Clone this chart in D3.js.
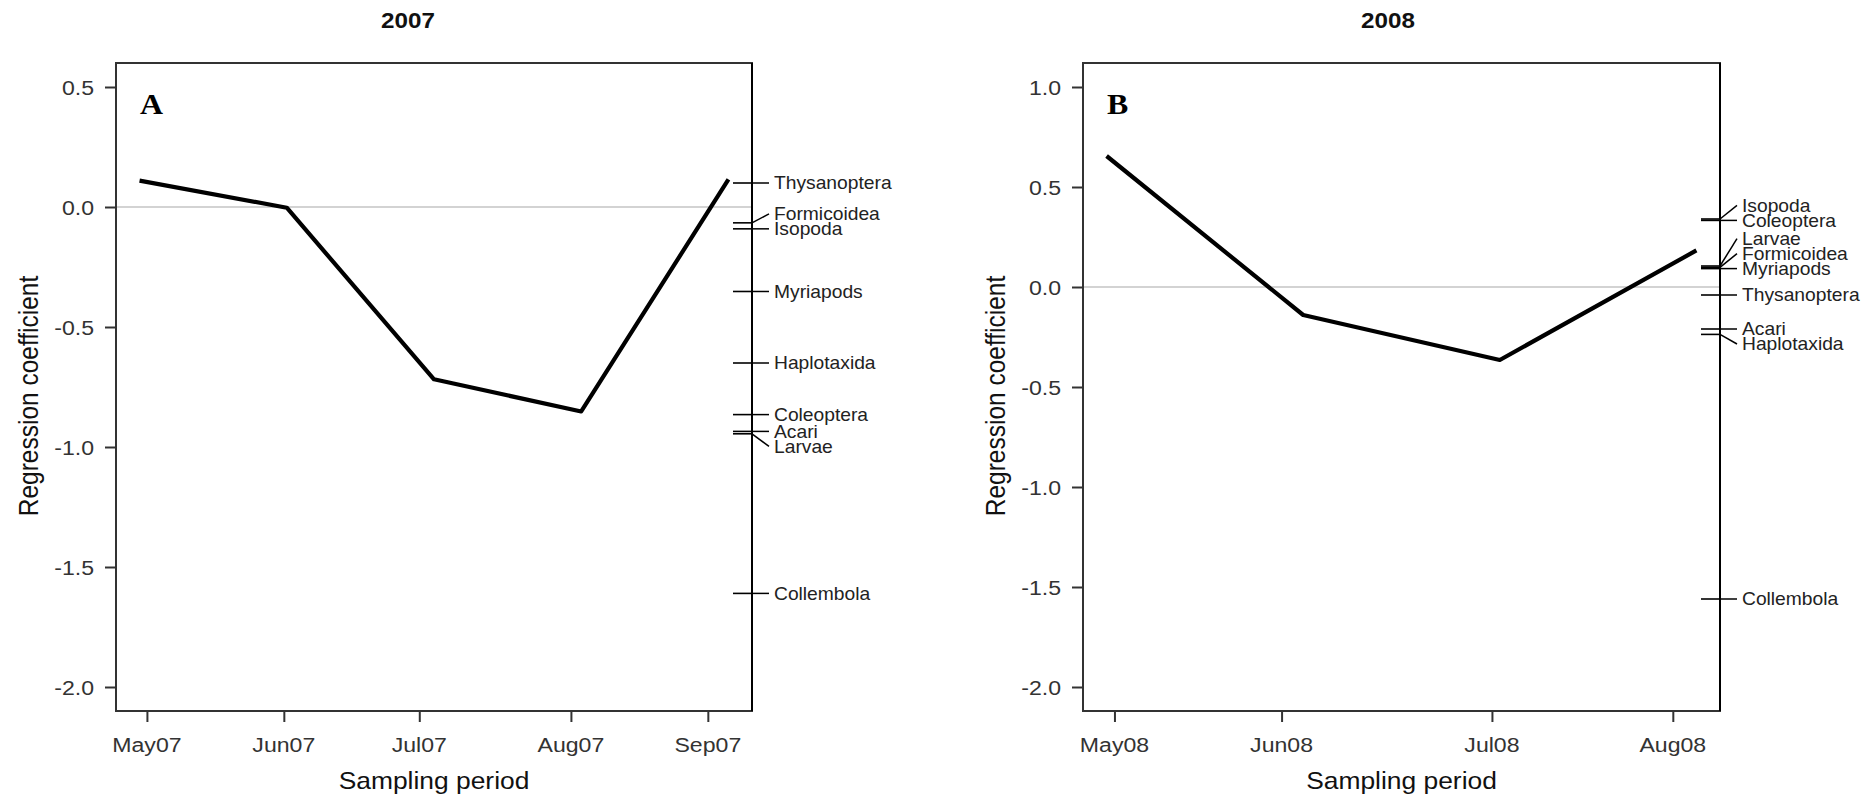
<!DOCTYPE html>
<html>
<head>
<meta charset="utf-8">
<script src="https://cdn.jsdelivr.net/npm/d3@7"></script>
<style>
  body { margin: 0; background: #fff; }
  svg { display: block; }
</style>
</head>
<body>
<svg id="fig" width="1876" height="800"></svg>
<script>
// ---- 2007 sampling season ----
const periods07 = ["May07", "Jun07", "Jul07", "Aug07", "Sep07"];
const samples07 = [1, 2, 3, 4, 5];
const coef07 = [0.11, -0.003, -0.718, -0.852, 0.115];
const tickAt07 = [1.05, 1.98, 2.9, 3.93, 4.86];
const species07 = ["Thysanoptera", "Formicoidea", "Isopoda", "Myriapods", "Haplotaxida",
                   "Coleoptera", "Acari", "Larvae", "Collembola"];
const scores07 = [0.10, -0.066, -0.091, -0.352, -0.65, -0.865, -0.935, -0.945, -1.61];
const ylim07 = [-2, 0.5];
const yTicks07 = [-2, -1.5, -1, -0.5, 0, 0.5];

// ---- 2008 sampling season ----
const periods08 = ["May08", "Jun08", "Jul08", "Aug08"];
const samples08 = [1, 2, 3, 4];
const coef08 = [0.655, -0.14, -0.365, 0.183];
const tickAt08 = [1.04, 1.89, 2.96, 3.88];
const species08 = ["Isopoda", "Coleoptera", "Larvae", "Formicoidea", "Myriapods",
                   "Thysanoptera", "Acari", "Haplotaxida", "Collembola"];
const scores08 = [0.34, 0.333, 0.105, 0.098, 0.092, -0.04, -0.21, -0.237, -1.56];
const ylim08 = [-2, 1];
const yTicks08 = [-2, -1.5, -1, -0.5, 0, 0.5, 1];

const SANS = "'Liberation Sans', Arial, Helvetica, sans-serif";
const SERIF = "'Liberation Serif', 'Times New Roman', serif";
const SX = 1.1;           // horizontal text stretch of the figure
const svg = d3.select("#fig");

svg.append("rect").attr("width", 1876).attr("height", 800).attr("fill", "#fff");

function label(g, x, y, str, o = {}) {
  let tr = `translate(${x},${y}) scale(${SX},1)`;
  if (o.rotate) tr += ` rotate(${o.rotate})`;
  return g.append("text")
    .attr("transform", tr)
    .attr("text-anchor", o.anchor || "middle")
    .attr("dy", o.dy || 0)
    .attr("font-family", o.family || SANS)
    .attr("font-size", o.size || 21)
    .attr("font-weight", o.weight || "normal")
    .attr("fill", o.fill || "#222")
    .text(str);
}

// pad a range by 4% on each side
function padded(lo, hi) {
  const d = (hi - lo) * 0.04;
  return [lo - d, hi + d];
}

function panel(cfg) {
  const { box, samples, coef, periods, tickAt, species, scores, ylim, yTicks,
          title, titleX, letter } = cfg;
  const g = svg.append("g");

  const x = d3.scaleLinear()
    .domain(padded(d3.min(samples), d3.max(samples)))
    .range([box.left, box.right]);
  const y = d3.scaleLinear()
    .domain(padded(ylim[0], ylim[1]))
    .range([box.bottom, box.top]);

  // zero reference line
  g.append("line")
    .attr("x1", box.left).attr("x2", box.right)
    .attr("y1", y(0)).attr("y2", y(0))
    .attr("stroke", "#c4c4c4").attr("stroke-width", 1.6);

  // principal response curve
  const line = d3.line().x((d, i) => x(samples[i])).y(d => y(d));
  g.append("path")
    .datum(coef)
    .attr("d", line)
    .attr("fill", "none")
    .attr("stroke", "#000")
    .attr("stroke-width", 4.2)
    .attr("stroke-linejoin", "round");

  // plot frame
  g.append("rect")
    .attr("x", box.left).attr("y", box.top)
    .attr("width", box.right - box.left).attr("height", box.bottom - box.top)
    .attr("fill", "none").attr("stroke", "#333").attr("stroke-width", 2);

  // y axis
  const yAxis = d3.axisLeft(y).tickValues(yTicks).tickSize(11).tickFormat("");
  const ya = g.append("g").attr("transform", `translate(${box.left},0)`).call(yAxis);
  ya.select(".domain").remove();
  ya.selectAll(".tick line").attr("stroke", "#333").attr("stroke-width", 2);
  yTicks.forEach(v => {
    label(g, box.left - 22, y(v), v.toFixed(1), { anchor: "end", dy: "0.36em", size: 21, fill: "#333" });
  });

  // x axis (sampling months)
  const xAxis = d3.axisBottom(x).tickValues(tickAt).tickSize(11).tickFormat("");
  const xa = g.append("g").attr("transform", `translate(0,${box.bottom})`).call(xAxis);
  xa.select(".domain").remove();
  xa.selectAll(".tick line").attr("stroke", "#333").attr("stroke-width", 2);
  tickAt.forEach((t, i) => {
    label(g, x(t), 752, periods[i], { size: 21, fill: "#333" });
  });

  // axis titles
  label(g, (box.left + box.right) / 2, 789, "Sampling period", { size: 24, fill: "#111" });
  label(g, box.left - 78, (box.top + box.bottom) / 2 + 9, "Regression coefficient",
        { size: 24.5, rotate: -90, fill: "#111" });

  // title and panel letter
  label(g, titleX, 28, title, { size: 22, weight: "bold", fill: "#111" });
  label(g, box.left + 24, 114, letter, { size: 29, weight: "bold", family: SERIF, anchor: "start", fill: "#000" });

  // species weights: rug on the inside, stacked labels on the outside
  const sp = species.map((name, i) => ({ name, v: scores[i], py: y(scores[i]) }));
  sp.sort((a, b) => a.v - b.v);
  const n = sp.length, ht = 15;
  const mid = Math.floor((n + 1) / 2) - 1;
  sp[mid].ly = sp[mid].py;
  for (let i = mid + 1; i < n; i++) sp[i].ly = Math.min(sp[i].py, sp[i - 1].ly - ht);
  for (let i = mid - 1; i >= 0; i--) sp[i].ly = Math.max(sp[i].py, sp[i + 1].ly + ht);

  const at = box.right, hoff = 17;
  g.selectAll(".rug").data(sp).enter().append("line")
    .attr("x1", at - 19).attr("x2", at)
    .attr("y1", d => d.py).attr("y2", d => d.py)
    .attr("stroke", "#000").attr("stroke-width", 1.6);
  g.selectAll(".leader").data(sp).enter().append("line")
    .attr("x1", at).attr("x2", at + hoff)
    .attr("y1", d => d.py).attr("y2", d => d.ly)
    .attr("stroke", "#000").attr("stroke-width", 1.5);
  g.append("line")
    .attr("x1", at).attr("x2", at).attr("y1", box.top).attr("y2", box.bottom)
    .attr("stroke", "#000").attr("stroke-width", 2);
  sp.forEach(d => {
    label(g, at + hoff + 5, d.ly, d.name, { anchor: "start", dy: "0.36em", size: 17.5, fill: "#222" });
  });
}

panel({
  box: { left: 116, top: 63, right: 752, bottom: 711 },
  samples: samples07, coef: coef07, periods: periods07, tickAt: tickAt07,
  species: species07, scores: scores07, ylim: ylim07, yTicks: yTicks07,
  title: "2007", titleX: 408, letter: "A"
});

panel({
  box: { left: 1083, top: 63, right: 1720, bottom: 711 },
  samples: samples08, coef: coef08, periods: periods08, tickAt: tickAt08,
  species: species08, scores: scores08, ylim: ylim08, yTicks: yTicks08,
  title: "2008", titleX: 1388, letter: "B"
});
</script>
</body>
</html>
